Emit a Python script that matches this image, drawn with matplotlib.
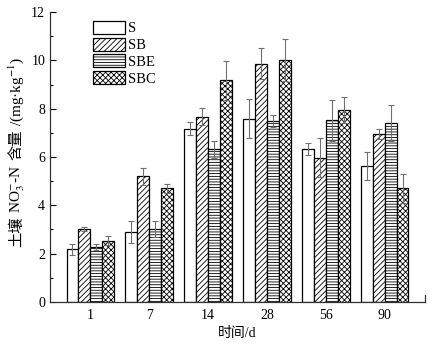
import numpy as np
import matplotlib
matplotlib.use("Agg")
import matplotlib.pyplot as plt

plt.rcParams['font.family'] = ['Liberation Serif', 'Noto Sans CJK SC']
plt.rcParams['hatch.linewidth'] = 0.6
plt.rcParams['mathtext.fontset'] = 'stix'

days = ['1', '7', '14', '28', '56', '90']
treatments = ['S', 'SB', 'SBE', 'SBC']

s_mean = [2.17, 2.89, 7.18, 7.59, 6.32, 5.61]
sb_mean = [3.02, 5.20, 7.67, 9.87, 5.97, 6.94]
sbe_mean = [2.27, 3.02, 6.32, 7.49, 7.52, 7.42]
sbc_mean = [2.54, 4.70, 9.17, 10.02, 7.96, 4.70]

s_err = [0.22, 0.46, 0.28, 0.80, 0.24, 0.58]
sb_err = [0.10, 0.34, 0.34, 0.65, 0.80, 0.20]
sbe_err = [0.12, 0.35, 0.36, 0.26, 0.86, 0.74]
sbc_err = [0.20, 0.18, 0.81, 0.87, 0.54, 0.59]

means = [s_mean, sb_mean, sbe_mean, sbc_mean]
errs = [s_err, sb_err, sbe_err, sbc_err]
hatches = ['', '//////', '------', 'xxxxxx']

fig = plt.figure(figsize=(4.35, 3.47), dpi=100)
ax = fig.add_axes([0.115, 0.130, 0.862, 0.835])

x = np.arange(len(days))
w = 0.2
for i, name in enumerate(treatments):
    pos = x + (i - 1.5) * w
    ax.bar(pos, means[i], w, color='white', edgecolor='black', linewidth=0.9,
           hatch=hatches[i], label=name, zorder=2)
    ax.errorbar(pos, means[i], yerr=errs[i], fmt='none', ecolor='#707070',
                elinewidth=0.8, capsize=2.5, capthick=0.8, zorder=3)

ax.set_xlim(-0.68, 5.68)
ax.set_ylim(0, 12)
ax.set_xticks(x)
ax.set_xticklabels(days)
ax.set_yticks(np.arange(0, 13, 2))
ax.set_yticks(np.arange(0, 13, 1), minor=True)
ax.tick_params(axis='y', which='major', direction='in', length=4, width=0.8, labelsize=10)
ax.tick_params(axis='y', which='minor', direction='in', length=2, width=0.8)
ax.tick_params(axis='x', length=0, labelsize=10, pad=5)

for side in ['top', 'right']:
    ax.spines[side].set_visible(False)
for side in ['left', 'bottom']:
    ax.spines[side].set_linewidth(0.9)
    ax.spines[side].set_color('#333333')
ax.plot([1, 1], [0, 0.025], transform=ax.transAxes, color='#333333',
        linewidth=0.9, clip_on=False)

ax.set_xlabel('时间/d', fontsize=10, labelpad=4)

ax.legend(loc='upper left', bbox_to_anchor=(0.09, 1.0), frameon=False,
          fontsize=10.5, handlelength=2.2, handleheight=1.0, handletextpad=0.2,
          labelspacing=0.15, borderaxespad=0.2)

# y label built from pieces so CJK and math text can mix
pieces = [('土壤', 'Noto Sans CJK SC', 4),
          ('NO$_3^{-}$-N', 'Liberation Serif', 5),
          ('含量', 'Noto Sans CJK SC', 3),
          ('/(mg·kg$^{-1}$)', 'Liberation Serif', 0)]
fig.canvas.draw()
renderer = fig.canvas.get_renderer()
label_x = 0.048
texts = []
for s, fam, gap in pieces:
    t = fig.text(label_x, 0, s, rotation=90, rotation_mode='anchor',
                 ha='left', va='baseline', fontsize=11, family=fam)
    texts.append(t)
H = fig.bbox.height
lengths = [t.get_window_extent(renderer).height / H + p[2] / H
           for t, p in zip(texts, pieces)]
y0 = 0.562 - sum(lengths) / 2
for t, L in zip(texts, lengths):
    t.set_y(y0)
    y0 += L

fig.savefig('out.png', dpi=100)
